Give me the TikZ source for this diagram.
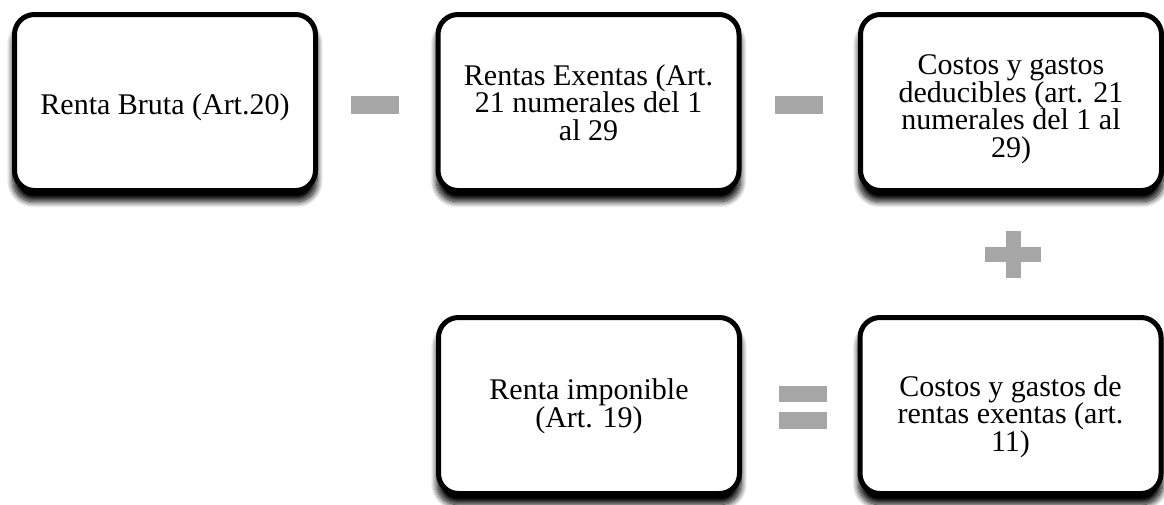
\documentclass[tikz,border=0pt]{standalone}
\usepackage{fontspec}
\setmainfont{Liberation Serif}
\usetikzlibrary{shadows.blur}
\definecolor{signgrey}{HTML}{A6A6A6}
\tikzset{
  box/.style={draw=black, line width=5pt, rounded corners=20pt, fill=white,
    minimum width=301pt, minimum height=176pt, inner sep=0pt,
    blur shadow={shadow xshift=0pt, shadow yshift=-10pt, shadow scale=1.01,
      shadow blur radius=6pt, shadow blur steps=12, shadow opacity=100}},
  boxtext/.style={align=center, inner sep=0pt, font=\fontsize{30}{27.5}\selectfont},
  sign/.style={fill=signgrey, draw=none, inner sep=0pt, minimum width=0pt, minimum height=0pt}
}
\begin{document}
\begin{tikzpicture}[x=1pt,y=-1pt]
\useasboundingbox (0,0) rectangle (1164,504);
\node[box] (b1) at (165,102.5) {};
\node[box] (b2) at (588.5,102.5) {};
\node[box] (b3) at (1011,102.5) {};
\node[box] (b4) at (589,405.5) {};
\node[box] (b5) at (1010.5,405.5) {};
\node[boxtext] (t1) at ([yshift=-5pt]b1.center) {Renta Bruta (Art.20)};
\node[boxtext] (t2) at ([yshift=0pt]b2.center) {Rentas Exentas (Art.\\21 numerales del 1\\al 29};
\node[boxtext] (t3) at ([yshift=-7pt]b3.center) {Costos y gastos\\deducibles (art. 21\\numerales del 1 al\\29)};
\node[boxtext] (t4) at ([yshift=-1pt]b4.center) {Renta imponible\\(Art. 19)};
\node[boxtext] (t5) at ([yshift=-11pt]b5.center) {Costos y gastos de\\rentas exentas (art.\\11)};
% signs
\node[sign, minimum width=48pt, minimum height=18pt] (m1) at (375,105) {};
\node[sign, minimum width=48pt, minimum height=18pt] (m2) at (799,105) {};
\node[sign, minimum width=56pt, minimum height=15pt] (p1h) at (1013,254.5) {};
\node[sign, minimum width=15pt, minimum height=47pt] (p1v) at (1013,254.5) {};
\node[sign, minimum width=48pt, minimum height=16pt] (e1) at (803,394) {};
\node[sign, minimum width=48pt, minimum height=17pt] (e2) at (803,420.5) {};
\end{tikzpicture}
\end{document}
